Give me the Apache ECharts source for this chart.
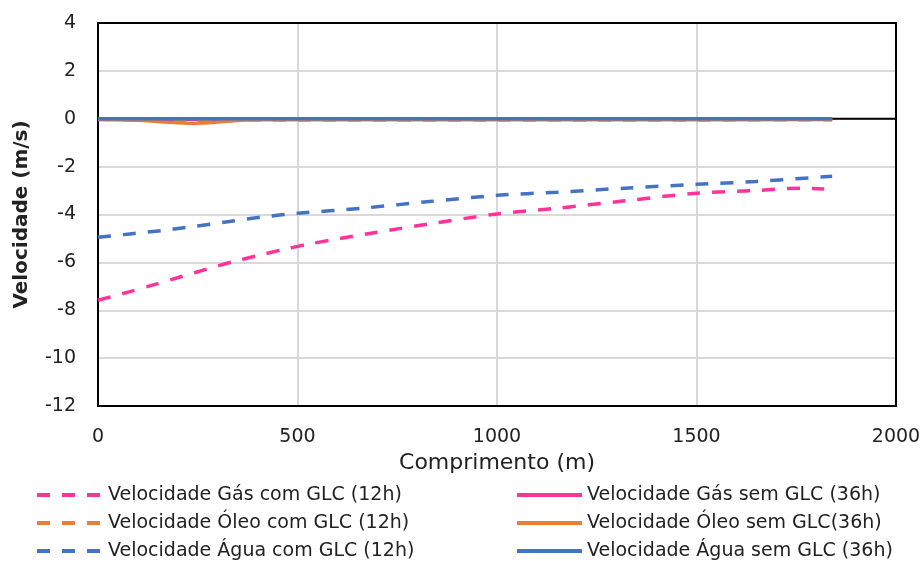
<!DOCTYPE html>
<html>
<head>
<meta charset="utf-8">
<script src="https://cdn.jsdelivr.net/npm/echarts@6/dist/echarts.min.js"></script>
<style>
  html, body { margin: 0; padding: 0; background: #fff; }
  #chart { width: 924px; height: 561px; }
</style>
</head>
<body>
<div id="chart"></div>
<script>
// comprimento (m) para as curvas com GLC (12h)
const distCom = [0, 80, 145, 210, 273, 336, 400, 465, 530, 600, 700, 830, 1000, 1150, 1320, 1500, 1650, 1760, 1820];
const gasCom = [-7.58, -7.22, -6.91, -6.59, -6.28, -5.98, -5.72, -5.46, -5.23, -5.02, -4.74, -4.39, -3.98, -3.74, -3.43, -3.11, -3.0, -2.9, -2.93];

const distAgua = [0, 80, 160, 240, 330, 410, 500, 660, 830, 1000, 1150, 1320, 1500, 1650, 1840];
const aguaCom = [-4.95, -4.81, -4.67, -4.5, -4.29, -4.11, -3.95, -3.74, -3.46, -3.2, -3.07, -2.9, -2.74, -2.62, -2.4];

// curvas quase nulas
const distSem = [0, 100, 150, 200, 240, 290, 340, 400, 600, 1000, 1400, 1840];
const oleoCom = [-0.03, -0.05, -0.06, -0.06, -0.06, -0.06, -0.05, -0.05, -0.05, -0.05, -0.05, -0.04];
const gasSem = [-0.02, -0.02, -0.02, -0.02, -0.02, -0.02, -0.02, -0.02, -0.02, -0.02, -0.02, -0.02];
const oleoSem = [-0.03, -0.06, -0.12, -0.17, -0.19, -0.16, -0.08, -0.04, -0.04, -0.04, -0.04, -0.03];
const aguaSem = [0, 0, 0, 0, 0, 0, 0, 0, 0, 0, 0, 0];

// eixo horizontal em y = 0
const zeroX = [0, 2000];
const zeroY = [0, 0];

const xTicks = [0, 500, 1000, 1500, 2000];
const yTicks = [-12, -10, -8, -6, -4, -2, 0, 2, 4];

const PINK = '#ff3399';
const ORANGE = '#ed7d31';
const BLUE = '#4472c4';
const FONT = 'DejaVu Sans';
const TEXT = '#222';

const zip = (xs, ys) => xs.map((x, i) => [x, ys[i]]);

function line(name, xs, ys, color, dashed) {
    return {
        name: name,
        type: 'line',
        data: zip(xs, ys),
        symbol: 'none',
        smooth: 0.3,
        silent: true,
        lineStyle: {
            color: color,
            width: 3.5,
            type: dashed ? [13, 12] : 'solid',
        },
        itemStyle: {color: color},
    };
}

const chart = echarts.init(document.getElementById('chart'), null, {renderer: 'canvas'});

const legendBase = {
    orient: 'vertical',
    top: 479,
    height: 82,
    itemHeight: 14,
    itemGap: 6,
    itemStyle: {opacity: 0},
    lineStyle: {width: 4},
    textStyle: {fontFamily: FONT, fontSize: 19, color: TEXT, lineHeight: 22},
};

// contorno preto do gráfico (topo e direita)
const frameAxis = {
    axisLine: {show: true, onZero: false, lineStyle: {color: '#000', width: 2}},
    axisTick: {show: false},
    axisLabel: {show: false},
    splitLine: {show: false},
};

const series = [
    {
        name: 'zero',
        type: 'line',
        data: zip(zeroX, zeroY),
        symbol: 'none',
        silent: true,
        lineStyle: {color: '#000', width: 2},
    },
    line('Velocidade Gás sem GLC (36h)', distSem, gasSem, PINK, false),
    line('Velocidade Óleo com GLC (12h)', distSem, oleoCom, ORANGE, true),
    line('Velocidade Óleo sem GLC(36h)', distSem, oleoSem, ORANGE, false),
    line('Velocidade Gás com GLC (12h)', distCom, gasCom, PINK, true),
    line('Velocidade Água com GLC (12h)', distAgua, aguaCom, BLUE, true),
    line('Velocidade Água sem GLC (36h)', distSem, aguaSem, BLUE, false),
];

chart.setOption({
    animation: false,
    grid: {
        left: 98, top: 23, right: 28, bottom: 155,
    },
    legend: [
        Object.assign({}, legendBase, {
            data: ['Velocidade Gás com GLC (12h)', 'Velocidade Óleo com GLC (12h)', 'Velocidade Água com GLC (12h)'],
            left: 30,
            itemWidth: 63,
            textStyle: Object.assign({}, legendBase.textStyle, {padding: [0, 0, 0, 3]}),
        }),
        Object.assign({}, legendBase, {
            data: ['Velocidade Gás sem GLC (36h)', 'Velocidade Óleo sem GLC(36h)', 'Velocidade Água sem GLC (36h)'],
            left: 510,
            itemWidth: 65,
        }),
    ],
    xAxis: [
        {
            type: 'value',
            min: xTicks[0], max: xTicks[xTicks.length - 1], interval: 500,
            name: 'Comprimento (m)',
            nameLocation: 'middle',
            nameGap: 41,
            nameTextStyle: {fontFamily: FONT, fontSize: 22, color: TEXT},
            axisLine: {onZero: false, lineStyle: {color: '#000', width: 2}},
            axisTick: {show: false},
            axisLabel: {fontFamily: FONT, fontSize: 19, color: TEXT, margin: 22, formatter: v => String(v)},
            splitLine: {lineStyle: {color: '#d9d9d9', width: 2}},
        },
        Object.assign({type: 'value', position: 'top', min: 0, max: 2000}, frameAxis),
    ],
    yAxis: [
        {
            type: 'value',
            min: yTicks[0], max: yTicks[yTicks.length - 1], interval: 2,
            name: 'Velocidade (m/s)',
            nameLocation: 'middle',
            nameGap: 66,
            nameTextStyle: {fontFamily: FONT, fontSize: 20, fontWeight: 'bold', color: TEXT},
            axisLine: {onZero: false, lineStyle: {color: '#000', width: 2}},
            axisTick: {show: false},
            axisLabel: {fontFamily: FONT, fontSize: 19, color: TEXT, margin: 22, formatter: v => String(v)},
            splitLine: {lineStyle: {color: '#d9d9d9', width: 2}},
        },
        Object.assign({type: 'value', position: 'right', min: -12, max: 4}, frameAxis),
    ],
    series: series,
});
</script>
</body>
</html>
